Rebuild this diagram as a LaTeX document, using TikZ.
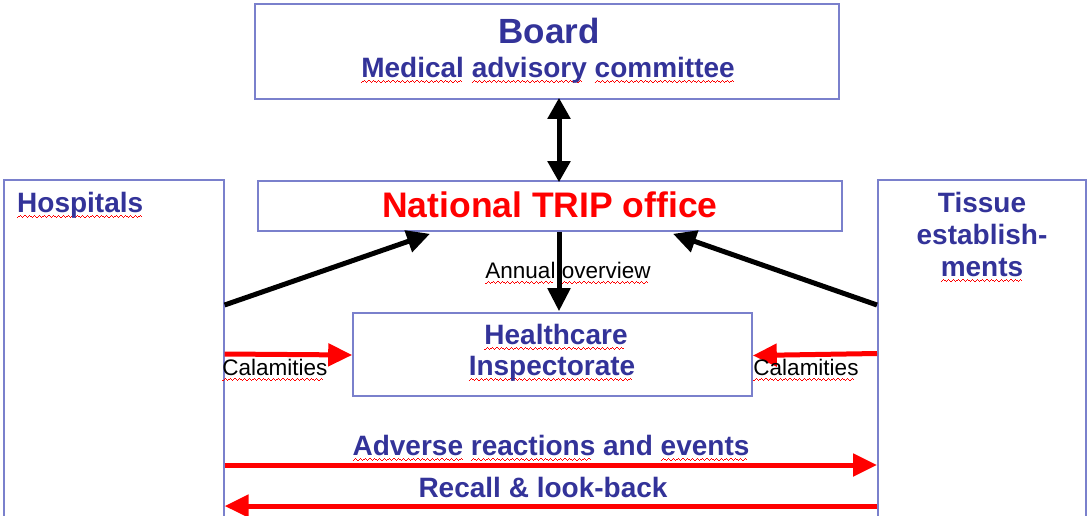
\documentclass[tikz,border=0pt]{standalone}
\usepackage{fontspec}
\setmainfont{Liberation Sans}
\usetikzlibrary{arrows.meta}
\definecolor{navy}{RGB}{51,51,153}
\definecolor{frame}{RGB}{122,128,204}
\definecolor{alert}{RGB}{255,0,0}
% one period of a pixel zig-zag, built from short rules
\newcommand\wavecell{\hbox{\rule{1.2pt}{1pt}\raisebox{1pt}{\rule{1.2pt}{1pt}}\raisebox{2pt}{\rule{1.2pt}{1pt}}\raisebox{1pt}{\rule{1.2pt}{1pt}}}}
% wavy red underline, as a spell checker marks a word
\newsavebox\spellbox
\newcommand\spell[1]{\sbox\spellbox{#1}\rlap{\color{alert}\raisebox{-6pt}{\hbox to \wd\spellbox{\leaders\wavecell\hfill}}}\usebox\spellbox}

\begin{document}
\begin{tikzpicture}[x=1pt,y=-1pt,
  box/.style={draw=frame, line width=1.6pt, inner sep=0pt},
  title/.style={font=\fontsize{35}{40}\selectfont\bfseries, anchor=base, inner sep=0pt},
  big/.style={font=\fontsize{28}{33}\selectfont\bfseries, text=navy, anchor=base, inner sep=0pt},
  small/.style={font=\fontsize{22.5}{26}\selectfont, text=black, anchor=base, inner sep=0pt},
  blk/.style={line width=5pt, draw=black, -{Triangle[length=23pt,width=22pt]}},
  blkboth/.style={line width=5pt, draw=black, {Triangle[length=21pt,width=22pt]}-{Triangle[length=21pt,width=22pt]}},
  redarr/.style={line width=5pt, draw=alert, -{Triangle[length=24pt,width=22pt]}},
]
\useasboundingbox (0,0) rectangle (1087,515);

% boxes
\node[box, minimum width=584pt, minimum height=95pt] (board) at (547,51.5) {};
\node[box, minimum width=584pt, minimum height=50pt] (trip) at (550,206) {};
\node[box, minimum width=220pt, minimum height=345pt, anchor=north west] (hosp) at (3,179) {};
\node[box, minimum width=208pt, minimum height=345pt, anchor=north west] (tissue) at (877,179) {};
\node[box, minimum width=399pt, minimum height=83pt] (insp) at (552.5,354.5) {};

% box texts
\node[title, text=navy] (boardT) at (549,43) {Board};
\node[big] (mac) at (548,77) {\spell{Medical} \spell{advisory} \spell{committee}};
\node[title, font=\fontsize{35.5}{40}\selectfont\bfseries, text=alert] (tripT) at (550,217) {National TRIP office};
\node[big, anchor=base west] (hospT) at (17,212) {\spell{Hospitals}};
\node[big] (tis1) at (982,212) {Tissue};
\node[big] (tis2) at (982,244) {establish-};
\node[big] (tis3) at (982,276) {\spell{ments}};
\node[big] (hc1) at (556,344) {\spell{Healthcare}};
\node[big] (hc2) at (552,375) {\spell{Inspectorate}};

% connectors
\coordinate (ax1) at (559,0);
\coordinate (ax2) at (559,0);
\draw[blkboth] ([yshift=2pt]board.south -| ax1) -- ([yshift=-2pt]trip.north -| ax1);
\draw[blk] ([yshift=-126pt]hosp.north east) -- ([xshift=-120pt,yshift=-2pt]trip.south);
\draw[blk] ([yshift=-126pt]tissue.north west) -- ([xshift=123pt,yshift=-2pt]trip.south);
\draw[blk] (trip.south -| ax2) -- ([yshift=1pt]insp.north -| ax2);
\node[small] (annual) at (568,278) {\spell{Annual} \spell{overview}};

\draw[redarr] ([yshift=-175pt]hosp.north east) -- ([yshift=-0.5pt]insp.west);
\draw[redarr] ([yshift=-174.5pt]tissue.north west) -- ([yshift=-1pt]insp.east);
\node[small] (calL) at (275,375) {\spell{Calamities}};
\node[small] (calR) at (806,375) {\spell{Calamities}};

\draw[redarr] ([yshift=-286pt]hosp.north east) -- ([yshift=-286pt]tissue.north west);
\draw[redarr] ([yshift=-327pt]tissue.north west) -- ([yshift=-327pt]hosp.north east);
\node[big] (adv) at (551,455) {\spell{Adverse} \spell{reactions} and \spell{events}};
\node[big] (rec) at (543,497) {Recall \& look-back};
\end{tikzpicture}
\end{document}
